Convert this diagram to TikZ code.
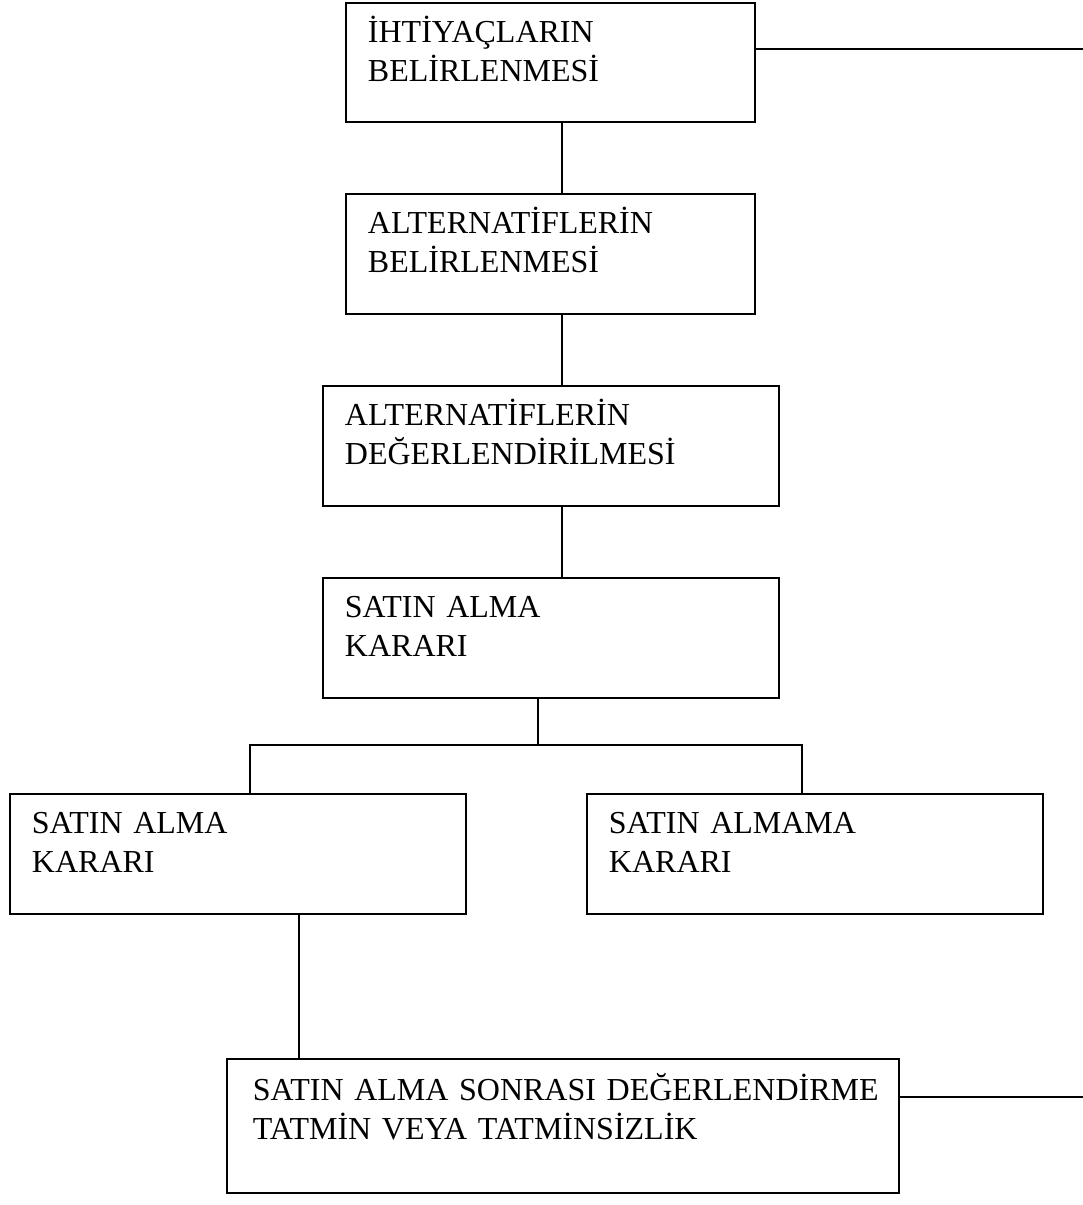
\documentclass[tikz,border=0pt]{standalone}
\usepackage{fontspec}
\setmainfont{Liberation Serif}
\usepackage{tikz}
\usetikzlibrary{calc,positioning}

\begin{document}
\begin{tikzpicture}[x=1pt, y=-1pt,
    stepbox/.style={draw, line width=1.9pt, anchor=north west, inner xsep=22pt, inner ysep=0pt,
      align=left, font=\fontsize{32}{38.5}\selectfont, text height=40pt, text depth=80pt},
    link/.style={line width=1.9pt}]
        % Page frame
        \useasboundingbox (0,0) rectangle (1083,1205);
        % Main chain of steps
        \node[stepbox, text width=365pt, text depth=79pt] (need) at (345,2) {İHTİYAÇLARIN\\BELİRLENMESİ};
        \node[stepbox, text width=365pt] (alt) at (345,193) {ALTERNATİFLERİN\\BELİRLENMESİ};
        \node[stepbox, text width=412pt] (eval) at (322,385) {ALTERNATİFLERİN\\DEĞERLENDİRİLMESİ};
        \node[stepbox, text width=412pt] (dec) at (322,577) {SATIN ALMA\\KARARI};
        % The two outcomes
        \node[stepbox, text width=412pt] (buy) at (9,793) {SATIN ALMA\\KARARI};
        \node[stepbox, text width=412pt] (nobuy) at (586,793) {SATIN ALMAMA\\KARARI};
        % After the purchase
        \node[stepbox, inner xsep=26pt, text width=620pt, text height=42pt, text depth=92pt] (post) at (226,1058) {\mbox{SATIN ALMA SONRASI DEĞERLENDİRME}\\TATMİN VEYA TATMİNSİZLİK};
        % Stem positions
        \coordinate (midA) at (562,0);
        \coordinate (fork) at (538,745);
        \coordinate (legL) at (250,0);
        \coordinate (legR) at (802,0);
        \coordinate (legP) at (299,0);
        \coordinate (edgeA) at (1083,49);
        \coordinate (edgeB) at (1083,1097);
        % Links down the chain
        \draw[link] (midA |- need.south) -- (midA |- alt.north);
        \draw[link] (midA |- alt.south) -- (midA |- eval.north);
        \draw[link] (midA |- eval.south) -- (midA |- dec.north);
        % Fork into the two outcomes
        \draw[link] (fork |- dec.south) -- (fork);
        \draw[link] (legL |- buy.north) |- (fork) -| (legR |- nobuy.north);
        \draw[link] (legP |- buy.south) -- (legP |- post.north);
        % Lines running off the right edge
        \draw[link] (need.east |- edgeA) -- (edgeA);
        \draw[link] (post.east |- edgeB) -- (edgeB);
\end{tikzpicture}
\end{document}
